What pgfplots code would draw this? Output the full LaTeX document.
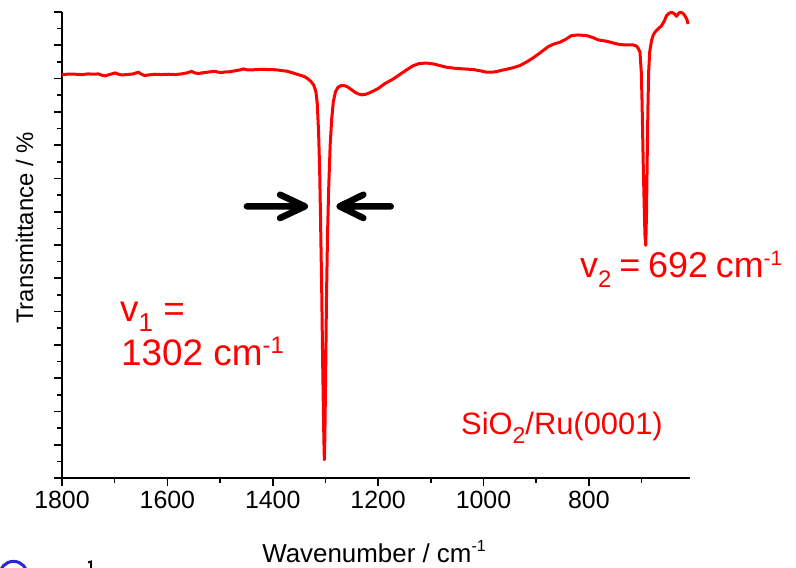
\documentclass[border=0pt]{standalone}
\usepackage{fontspec}
\setmainfont{Liberation Sans}
\usepackage{pgfplots}
\pgfplotsset{compat=1.18}
\definecolor{specred}{RGB}{255,0,0}
\definecolor{ringblue}{RGB}{40,40,215}

% lowered / raised small text for sub- and superscripts
\newcommand{\lsub}[2]{\raisebox{-0.27em}{\fontsize{#1}{#1}\selectfont #2}}
\newcommand{\rsup}[3]{\raisebox{#2}{\fontsize{#1}{#1}\selectfont #3}}

\begin{document}
\begin{tikzpicture}[x=1bp,y=1bp]
\useasboundingbox (0,0) rectangle (796,568);
\begin{axis}[
  at={(62bp,90bp)}, anchor=south west,
  scale only axis, width=628bp, height=466bp,
  x dir=reverse,
  xmin=608, xmax=1800, ymin=0, ymax=14,
  axis x line*=bottom, axis y line*=left,
  axis line style={-, line width=2bp, black},
  xtick={800,1000,...,1800}, minor xtick={700,900,...,1700},
  ytick={0,1,...,14}, minor ytick={0.5,1.5,...,13.5}, yticklabels={},
  tick align=outside,
  major tick length=8bp, minor tick length=5bp,
  major tick style={line width=1.6bp, black},
  minor tick style={line width=1.6bp, black},
  /pgf/number format/assume math mode=true,
  /pgf/number format/1000 sep={},
  xticklabel style={font=\fontsize{25}{30}\selectfont, yshift=-2bp},
  clip=false,
]
\addplot[specred, line width=3bp, line join=round] table {
1800 12.12
1790 12.13
1775 12.13
1762 12.12
1750 12.14
1740 12.13
1731 12.14
1724 12.10
1718 12.08
1710 12.12
1699 12.17
1693 12.13
1687 12.11
1675 12.12
1665 12.14
1655 12.19
1649 12.13
1643 12.09
1635 12.11
1624 12.13
1612 12.12
1598 12.13
1585 12.12
1573 12.14
1560 12.18
1554 12.22
1548 12.17
1541 12.15
1535 12.17
1529 12.18
1520 12.20
1510 12.22
1503 12.19
1497 12.18
1490 12.20
1484 12.20
1476 12.22
1469 12.24
1462 12.26
1456 12.29
1448 12.26
1440 12.26
1430 12.27
1421 12.28
1411 12.27
1402 12.27
1392 12.26
1383 12.24
1373 12.22
1364 12.18
1356 12.14
1348 12.10
1340 12.06
1334 12.00
1328 11.92
1322 11.80
1318 11.60
1315.5 11.25
1313 10.40
1311 9.30
1309.5 8.00
1307 5.60
1305 3.20
1303 1.20
1302 0.55
1301 1.30
1299.5 3.20
1298 5.40
1296 7.30
1294 8.60
1291 10.00
1288 10.80
1285 11.30
1281 11.60
1276 11.74
1270 11.79
1264 11.79
1257 11.74
1250 11.66
1244 11.59
1238 11.54
1231 11.51
1223 11.53
1215 11.58
1200 11.70
1187 11.85
1172 11.98
1159 12.12
1146 12.26
1133 12.39
1122 12.45
1114 12.46
1105 12.46
1095 12.44
1083 12.39
1070 12.34
1055 12.31
1038 12.29
1019 12.27
1005 12.23
994 12.19
985 12.19
975 12.21
965 12.25
956 12.28
943 12.33
931 12.39
918 12.50
906 12.62
891 12.79
877 12.96
866 13.04
855 13.09
844 13.18
833 13.29
820 13.31
804 13.29
792 13.23
782 13.16
766 13.12
754 13.07
741 13.02
728 13.01
716 13.01
710 12.98
706 12.90
703 12.80
700.5 12.20
699 11.30
697 9.60
695 8.20
693.5 7.30
692 6.99
690.5 8.00
689.5 9.30
688 11.00
686.5 12.20
684.5 12.80
681 13.14
678 13.30
674.7 13.39
668 13.50
662 13.59
657 13.72
652.6 13.89
648 13.96
643 13.99
638 13.95
633.6 13.87
630 13.95
627 13.99
622 13.97
617.8 13.89
614 13.78
611.6 13.64
};
% arrows marking the width of the 1302 band
\draw[black, line width=6.5bp, line cap=round, line join=round]
  (axis cs:1449,8.16) -- (axis cs:1339,8.16)
  (axis cs:1386,8.51) -- (axis cs:1339,8.16) -- (axis cs:1386,7.81);
\draw[black, line width=6.5bp, line cap=round, line join=round]
  (axis cs:1176,8.16) -- (axis cs:1273,8.16)
  (axis cs:1228,8.51) -- (axis cs:1273,8.16) -- (axis cs:1228,7.81);
\end{axis}

% axis titles
\node[anchor=base, inner sep=0pt, font=\fontsize{26}{30}\selectfont]
  at (374,5) {Wavenumber / cm\rsup{16}{11bp}{-1}};
\node[anchor=base, rotate=90, inner sep=0pt, font=\fontsize{24}{28}\selectfont]
  at (33,340) {Transmittance / \%};

% band annotations
\begin{scope}[specred, font=\fontsize{37}{44}\selectfont]
\node[anchor=base west, inner sep=0pt] at (120,246) {v\lsub{26}{1} =};
\node[anchor=base west, inner sep=0pt] at (121,202) {1302 cm\rsup{24}{12bp}{-1}};
\end{scope}
\node[anchor=base west, inner sep=0pt, text=specred, font=\fontsize{36}{42}\selectfont]
  at (580,290) {v\lsub{24}{2}\hspace{0.22em}=\hspace{0.22em}692\hspace{0.22em}cm\rsup{21}{12bp}{-1}};
\node[anchor=base west, inner sep=0pt, text=specred, font=\fontsize{31}{36}\selectfont]
  at (461,133) {SiO\lsub{23}{2}/Ru(0001)};

% partial marks along the lower edge
\begin{scope}
\clip (0,0) rectangle (796,568);
\draw[ringblue, line width=3bp] (13.5,-7.4) circle (14);
\draw[black, line width=1.8bp] (91,0) -- (91,6.5) -- (88,5.5);
\end{scope}
\end{tikzpicture}
\end{document}
